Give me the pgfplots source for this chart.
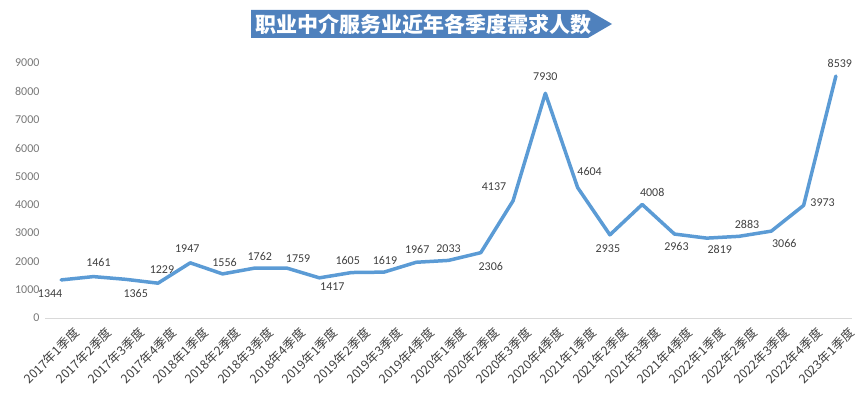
\documentclass[border=0pt]{standalone}
\usepackage{pgfplots}
\pgfplotsset{compat=1.18}
\usepackage{pgfplotstable}
\usepackage{fontspec}
\setmainfont{Carlito}
\newfontfamily\cjk{Noto Sans CJK SC}
\definecolor{linecol}{RGB}{91,155,213}
\definecolor{bannercol}{RGB}{79,129,189}
\definecolor{tickgray}{RGB}{120,120,120}
\definecolor{axisgray}{RGB}{217,217,217}
\definecolor{labcol}{RGB}{64,64,64}
\pgfplotstableread[col sep=comma]{
x,y,dx,dy
0,1344,-11,-14
1,1461,5,14
2,1365,10,-14
3,1229,4,14
4,1947,-3,14
5,1556,2,11
6,1762,5,12
7,1759,11,10
8,1417,13,-9
9,1605,-4,12
10,1619,1,12
11,1967,1,13
12,2033,0,12
13,2306,10,-14
14,4137,-19,14
15,7930,0,17
16,4604,12,16
17,2935,-2,-14
18,4008,10,12
19,2963,2,-12
20,2819,13,-11
21,2883,8,12
22,3066,13,-12
23,3973,19,3
24,8539,4,13
}\datatable
\begin{document}
\begin{tikzpicture}[x=1bp,y=1bp]
\useasboundingbox (0,0) rectangle (861,393);
% title banner
\fill[bannercol] (251,383) -- (588,383) -- (612,369) -- (588,355) -- (251,355) -- cycle;
\node[text=white, font=\cjk\bfseries\fontsize{21bp}{24bp}\selectfont, anchor=center] at (423,369) {职业中介服务业近年各季度需求人数};
\begin{axis}[
  at={(45bp,75bp)}, anchor=south west,
  scale only axis, width=807bp, height=255bp,
  xmin=-0.5, xmax=24.5, ymin=0, ymax=9000,
  axis x line*=bottom, axis y line*=left,
  ytick={0,1000,...,9000},
  xtick={0,...,24},
  xticklabels={2017年1季度,2017年2季度,2017年3季度,2017年4季度,2018年1季度,2018年2季度,2018年3季度,2018年4季度,2019年1季度,2019年2季度,2019年3季度,2019年4季度,2020年1季度,2020年2季度,2020年3季度,2020年4季度,2021年1季度,2021年2季度,2021年3季度,2021年4季度,2022年1季度,2022年2季度,2022年3季度,2022年4季度,2023年1季度},
  x axis line style={draw=axisgray, line width=1bp, -},
  y axis line style={draw=none},
  major tick length=0pt,
  /pgf/number format/assume math mode=true,
  /pgf/number format/1000 sep={},
  yticklabel style={text=tickgray, font=\fontsize{12bp}{14bp}\selectfont, xshift=-2bp},
  xticklabel style={text=labcol, font=\cjk\fontsize{12.5bp}{14bp}\selectfont, rotate=45, anchor=east, xshift=6bp, yshift=-20bp},
  clip=false,
]
\addplot[color=linecol, line width=3.5bp, line join=round, line cap=round,
  nodes near coords, point meta=explicit,
  visualization depends on={\thisrow{dx}\as\dx},
  visualization depends on={\thisrow{dy}\as\dy},
  every node near coord/.append style={anchor=center, xshift=\dx bp, yshift=\dy bp, text=labcol, font=\fontsize{12bp}{14bp}\selectfont, inner sep=0pt},
] table[x=x, y=y, meta=y] {\datatable};
\end{axis}
\end{tikzpicture}
\end{document}
